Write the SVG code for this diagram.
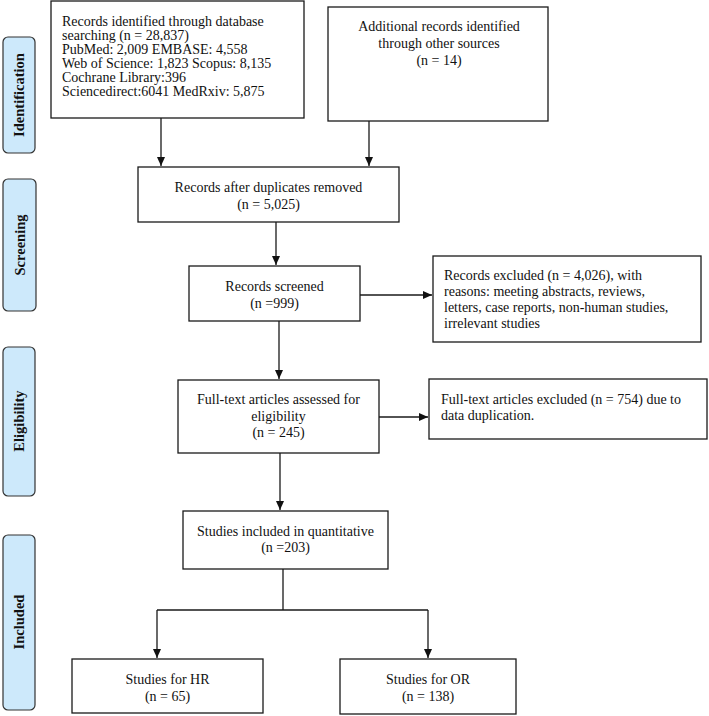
<svg xmlns="http://www.w3.org/2000/svg" width="709" height="716" viewBox="0 0 709 716">
<style>
.box{fill:#fff;stroke:#1a1a1a;stroke-width:1.3}
.side{fill:#cde9fb;stroke:#333;stroke-width:1.2}
.t{font-family:"Liberation Serif","Times New Roman",serif;font-size:14px;fill:#111}
.c{text-anchor:middle}
.s{font-family:"Liberation Serif","Times New Roman",serif;font-size:14.5px;font-weight:bold;fill:#111;text-anchor:middle}
.ln{fill:none;stroke:#1a1a1a;stroke-width:1.3}
</style>
<defs>
<marker id="ah" markerUnits="userSpaceOnUse" markerWidth="9" markerHeight="8" refX="9" refY="4" orient="auto">
<path d="M0,0 L9,4 L0,8 z" fill="#111"/>
</marker>
</defs>
<rect width="709" height="716" fill="#fff"/>
<g id="sidebars">
<g id="identification"><rect class="side" x="3" y="37" width="32" height="116" rx="5"/><text class="s" transform="translate(24,95) rotate(-90)">Identification</text></g>
<g id="screening"><rect class="side" x="3" y="179" width="33" height="132" rx="5"/><text class="s" transform="translate(25,245) rotate(-90)">Screening</text></g>
<g id="eligibility"><rect class="side" x="3" y="347" width="32" height="149" rx="5"/><text class="s" transform="translate(24,421) rotate(-90)">Eligibility</text></g>
<g id="included"><rect class="side" x="3" y="535" width="32" height="175" rx="5"/><text class="s" transform="translate(24,622) rotate(-90)">Included</text></g>
</g>
<g id="connectors">
<path class="ln" d="M161,118 V166" marker-end="url(#ah)"/>
<path class="ln" d="M369,121 V166" marker-end="url(#ah)"/>
<path class="ln" d="M276,222 V265" marker-end="url(#ah)"/>
<path class="ln" d="M279,321 V379" marker-end="url(#ah)"/>
<path class="ln" d="M360,295 H432" marker-end="url(#ah)"/>
<path class="ln" d="M379,417 H428" marker-end="url(#ah)"/>
<path class="ln" d="M280,453 V510" marker-end="url(#ah)"/>
<path class="ln" d="M283,568 V610 M157,610 H428"/>
<path class="ln" d="M157,610 V658" marker-end="url(#ah)"/>
<path class="ln" d="M428,610 V658" marker-end="url(#ah)"/>
</g>
<g id="n1"><rect class="box" x="51" y="1" width="253" height="117"/>
<text class="t" x="62" y="26">Records identified through database</text>
<text class="t" x="62" y="40">searching (n = 28,837)</text>
<text class="t" x="62" y="54">PubMed: 2,009 EMBASE: 4,558</text>
<text class="t" x="62" y="68">Web of Science: 1,823 Scopus: 8,135</text>
<text class="t" x="62" y="82">Cochrane Library:396</text>
<text class="t" x="62" y="96">Sciencedirect:6041 MedRxiv: 5,875</text>
</g>
<g id="n2"><rect class="box" x="328" y="7" width="220" height="114"/>
<text class="t c" x="439" y="31">Additional records identified</text>
<text class="t c" x="439" y="48">through other sources</text>
<text class="t c" x="439" y="65">(n = 14)</text>
</g>
<g id="n3"><rect class="box" x="138" y="167" width="261" height="55"/>
<text class="t c" x="268.5" y="192">Records after duplicates removed</text>
<text class="t c" x="268.5" y="209">(n = 5,025)</text>
</g>
<g id="n4"><rect class="box" x="189" y="266" width="171" height="55"/>
<text class="t c" x="274.5" y="291">Records screened</text>
<text class="t c" x="274.5" y="308">(n =999)</text>
</g>
<g id="n5"><rect class="box" x="433" y="256" width="268" height="86"/>
<text class="t" x="444" y="280">Records excluded (n = 4,026), with</text>
<text class="t" x="444" y="296">reasons: meeting abstracts, reviews,</text>
<text class="t" x="444" y="312">letters, case reports, non-human studies,</text>
<text class="t" x="444" y="328">irrelevant studies</text>
</g>
<g id="n6"><rect class="box" x="178" y="380" width="201" height="73"/>
<text class="t c" x="278.5" y="404">Full-text articles assessed for</text>
<text class="t c" x="278.5" y="421">eligibility</text>
<text class="t c" x="278.5" y="437">(n = 245)</text>
</g>
<g id="n7"><rect class="box" x="429" y="379" width="278" height="60"/>
<text class="t" x="441" y="404">Full-text articles excluded (n = 754) due to</text>
<text class="t" x="441" y="420">data duplication.</text>
</g>
<g id="n8"><rect class="box" x="183" y="511" width="205" height="58"/>
<text class="t c" x="285.5" y="536">Studies included in quantitative</text>
<text class="t c" x="285.5" y="552">(n =203)</text>
</g>
<g id="n9"><rect class="box" x="72" y="659" width="191" height="54"/>
<text class="t c" x="167.5" y="684">Studies for HR</text>
<text class="t c" x="167.5" y="701">(n = 65)</text>
</g>
<g id="n10"><rect class="box" x="340" y="659" width="176" height="55"/>
<text class="t c" x="428" y="684">Studies for OR</text>
<text class="t c" x="428" y="701">(n = 138)</text>
</g>
</svg>
